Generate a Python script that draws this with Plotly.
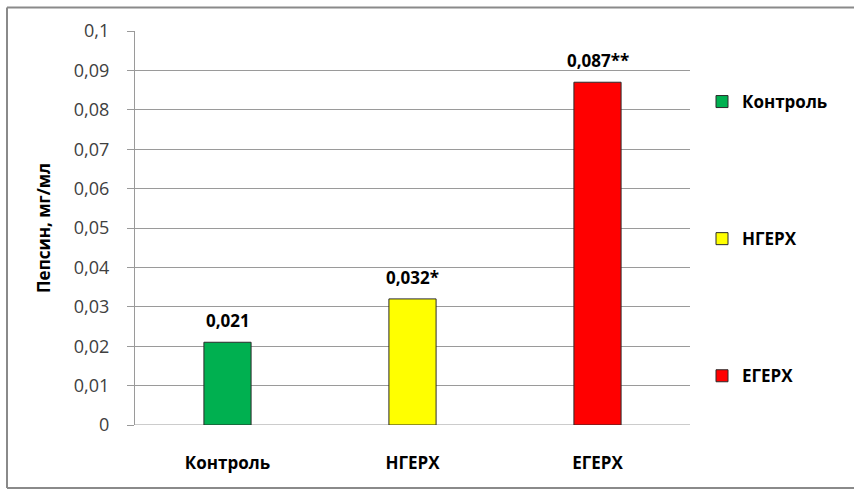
import plotly.graph_objects as go

# Pepsin concentration by group
categories = ["Контроль", "НГЕРХ", "ЕГЕРХ"]
values = [0.021, 0.032, 0.087]
significance = ["", "*", "**"]
colors = ["#00b050", "#ffff00", "#ff0000"]

W, H = 854, 492
L, R, T, B = 135, 164, 31, 67
plot_w = W - L - R
plot_h = H - T - B


def px_x(px):
    return (px - L) / plot_w


def px_y(py):
    return (H - B - py) / plot_h


label_font = dict(family="Open Sans", size=17, color="#000000", weight="bold")

fig = go.Figure()
for cat, val, sig, col in zip(categories, values, significance, colors):
    fig.add_trace(go.Bar(
        x=[cat], y=[val], name=cat, legendgroup=cat,
        marker=dict(color=col, line=dict(color="#2b2b2b", width=1)),
        width=0.255,
    ))
    # value label above each bar
    fig.add_annotation(
        x=cat, y=val, xref="x", yref="y",
        text=f"{val:.3f}".replace(".", ",") + sig,
        showarrow=False, yanchor="bottom", yshift=8,
        font=label_font,
    )

fig.update_layout(
    width=W, height=H,
    margin=dict(l=L, r=R, t=T, b=B),
    paper_bgcolor="white", plot_bgcolor="white",
    barmode="overlay",
    separators=", ",
    font=dict(family="Open Sans", size=17, color="#404040"),
    showlegend=True,
    legend=dict(
        x=px_x(702), xanchor="left", y=px_y(84), yanchor="top",
        tracegroupgap=112, traceorder="grouped",
        font=label_font,
        bgcolor="rgba(0,0,0,0)",
    ),
    xaxis=dict(
        showgrid=False, showline=False, ticks="",
        tickfont=label_font,
        ticklabelstandoff=26,
    ),
    yaxis=dict(
        range=[0, 0.1], dtick=0.01, tick0=0,
        showgrid=True, gridcolor="#9a9a9a", gridwidth=1.2,
        zeroline=False,
        showline=True, linecolor="#9a9a9a", linewidth=1.2,
        ticks="outside", ticklen=7, tickcolor="#9a9a9a", tickwidth=1.2,
        ticklabelstandoff=14,
        tickfont=dict(family="Open Sans", size=18, color="#404040"),
        title=dict(text="Пепсин, мг/мл", standoff=18,
                   font=dict(family="Open Sans", size=17, color="#000000", weight="bold")),
    ),
)

# Baseline across the category axis
fig.add_shape(type="line", xref="paper", yref="y", x0=0, x1=1, y0=0, y1=0,
              line=dict(color="#9a9a9a", width=1.2), layer="below")

# Chart frame
frame = dict(color="#8a8a8a", width=2)
fig.add_shape(type="line", xref="paper", yref="paper",
              x0=px_x(7), x1=px_x(860), y0=px_y(7.5), y1=px_y(7.5), line=frame)
fig.add_shape(type="line", xref="paper", yref="paper",
              x0=px_x(7), x1=px_x(7), y0=px_y(7.5), y1=px_y(488), line=frame)
fig.add_shape(type="line", xref="paper", yref="paper",
              x0=px_x(7), x1=px_x(860), y0=px_y(488), y1=px_y(488), line=frame)

fig.write_html("out.html")
